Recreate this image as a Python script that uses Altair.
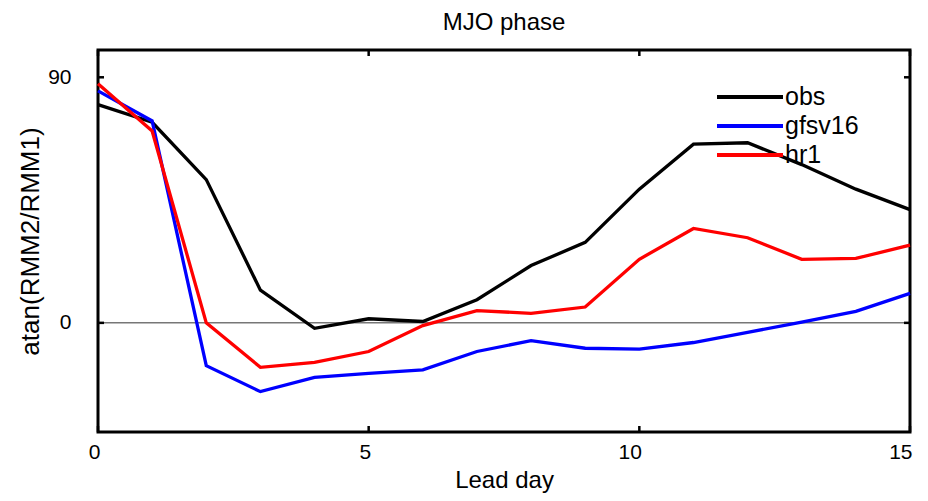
import altair as alt
import pandas as pd

lead_days = list(range(16))
obs = [80, 73.5, 52.5, 12, -2, 1.5, 0.5, 8.5, 21, 29.5, 49, 65.5, 66, 58, 49, 41.5]
gfsv16 = [85, 74, -15.7, -25.2, -20, -18.5, -17.2, -10.5, -6.5, -9.3, -9.6, -7.2, -3.5, 0.3, 4.2, 10.8]
hr1 = [87.6, 70.3, 0, -16.3, -14.5, -10.5, -1, 4.5, 3.5, 5.8, 23.3, 34.6, 31.2, 23.3, 23.6, 28.5]
series_names = ["obs", "gfsv16", "hr1"]
series_colors = ["#000000", "#0000ff", "#ff0000"]
x_ticks = [0, 5, 10, 15]
y_ticks = [0, 90]

W, H = 812, 382
FONT = "Liberation Sans"

rows = []
for name, vals in zip(series_names, [obs, gfsv16, hr1]):
    for d, v in zip(lead_days, vals):
        rows.append({"day": d, "value": v, "series": name})
df = pd.DataFrame(rows)

xs = alt.Scale(domain=[0, 15], nice=False, zero=False)
ys = alt.Scale(domain=[-40, 100], nice=False, zero=False)

zero_line = alt.Chart(pd.DataFrame({"y": [0]})).mark_rule(
    color="#777777", strokeWidth=1.5
).encode(y=alt.Y("y:Q", scale=ys))

lines = alt.Chart(df).mark_line(strokeWidth=3.3).encode(
    x=alt.X("day:Q", scale=xs,
            axis=alt.Axis(values=x_ticks, title="Lead day", grid=False, ticks=False,
                          tickSize=0, domain=False, labelFontSize=21, labelPadding=9,
                          labelAlign="right", tickOffset=2, labelFlush=False,
                          labelFont=FONT, titleFont=FONT, titleFontSize=24,
                          titleFontWeight="normal", titleColor="black", labelColor="black",
                          titleBaseline="middle", titleY=48)),
    y=alt.Y("value:Q", scale=ys,
            axis=alt.Axis(values=y_ticks, title="atan(RMM2/RMM1)", grid=False, ticks=False,
                          tickSize=0, domain=False, labelFontSize=21, labelPadding=27,
                          labelFont=FONT, titleFont=FONT, titleFontSize=26,
                          titleFontWeight="normal", titleColor="black", labelColor="black",
                          titleBaseline="middle", titleX=-68)),
    color=alt.Color("series:N",
                    scale=alt.Scale(domain=series_names, range=series_colors),
                    sort=series_names,
                    legend=alt.Legend(title=None, orient="none", legendX=639, legendY=34,
                                      symbolType="M-3,0H3", symbolSize=484,
                                      symbolStrokeWidth=4, symbolFillColor="transparent",
                                      labelOffset=22, labelFontSize=25, labelFont=FONT,
                                      labelColor="black", rowPadding=3, padding=0)),
    detail="series:N",
)

xt = pd.DataFrame({"t": x_ticks})
yt = pd.DataFrame({"t": y_ticks})
tick_style = dict(color="black", strokeWidth=2.5)
xb = alt.Chart(xt).mark_rule(**tick_style).encode(x=alt.X("t:Q", scale=xs), y=alt.value(H), y2=alt.value(H - 6))
xtop = alt.Chart(xt).mark_rule(**tick_style).encode(x=alt.X("t:Q", scale=xs), y=alt.value(0), y2=alt.value(6))
yl = alt.Chart(yt).mark_rule(**tick_style).encode(y=alt.Y("t:Q", scale=ys), x=alt.value(0), x2=alt.value(6))
yr = alt.Chart(yt).mark_rule(**tick_style).encode(y=alt.Y("t:Q", scale=ys), x=alt.value(W), x2=alt.value(W - 6))

chart = alt.layer(zero_line, lines, xb, xtop, yl, yr).properties(
    width=W, height=H,
    background="white",
    title=alt.TitleParams("MJO phase", font=FONT, fontSize=24, fontWeight="normal",
                          color="black", anchor="middle", baseline="alphabetic", offset=-5),
    autosize=alt.AutoSizeParams(type="none"),
    padding={"left": 90, "top": 42, "right": 10, "bottom": 61},
).configure_view(stroke="black", strokeWidth=3)

chart.save("out.html", embed_options={"renderer": "svg", "actions": False})
